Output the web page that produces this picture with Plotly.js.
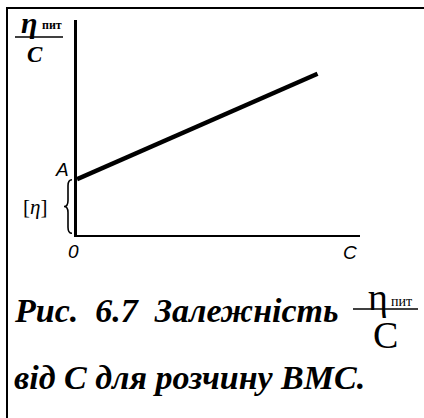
<!DOCTYPE html>
<html>
<head>
<meta charset="utf-8">
<script src="https://cdn.plot.ly/plotly-3.0.1.min.js"></script>
<style>
  html, body { margin: 0; padding: 0; background: #fff; }
  #wrap { position: relative; width: 424px; height: 418px; overflow: hidden; }
  #frame { position: absolute; left: 6px; top: 7px; right: -5px; bottom: -5px;
           border-left: 2.5px solid #000; border-top: 2.5px solid #000; pointer-events: none; }
  #chart { position: absolute; left: 0; top: 0; width: 424px; height: 418px; }
</style>
</head>
<body>
<div id="wrap">
  <div id="chart"></div>
  <div id="frame"></div>
</div>
<script>
// Reduced viscosity vs. concentration for a polymer solution (arbitrary units)
const concentration = [0, 8.5];          // C
const reducedViscosity = [2.6, 7.5];     // η_пит / C
const intrinsicViscosity = reducedViscosity[0]; // [η] = intercept A

const axisLabels = { y: 'η', ySub: 'пит', yDen: 'C', origin: '0', x: 'C', intercept: 'A', intrinsic: '[η]' };
const captionLines = ['Рис.  6.7  Залежність', 'від С для розчину ВМС.'];
const captionFrac = { num: 'η', sub: 'пит', den: 'C' };

const SERIF = 'Liberation Serif';
const SANS = 'Liberation Sans';
const labelFont = { family: SANS, size: 19, color: '#000', style: 'italic' };
const capFont = { family: SERIF, size: 34, color: '#000', weight: 700, style: 'italic' };
const mathFont = { family: SERIF, size: 38, color: '#000' };

const trace = {
  x: concentration,
  y: reducedViscosity,
  type: 'scatter',
  mode: 'lines',
  line: { color: '#000', width: 4.5 },
  hoverinfo: 'skip'
};

// curly brace marking the intercept segment [0, A] on the ordinate
const bTop = intrinsicViscosity - 0.03, bBot = 0.08, bMid = (bTop + bBot) / 2, bD = 0.28;
const bracePath = `M -5,${bTop} Q -9,${bTop} -9,${bTop - bD} L -9,${bMid + bD} Q -9,${bMid} -13,${bMid}` +
                  ` Q -9,${bMid} -9,${bMid - bD} L -9,${bBot + bD} Q -9,${bBot} -5,${bBot}`;

const annotations = [
  // axis annotations
  { xref: 'x', yref: 'y', x: 0, y: intrinsicViscosity, text: axisLabels.intercept,
    xanchor: 'right', yanchor: 'bottom', xshift: -6, yshift: -3, showarrow: false, font: labelFont },
  { xref: 'x', yref: 'y', x: 0, y: intrinsicViscosity / 2, text: '[<i>η</i>]',
    xanchor: 'right', yanchor: 'middle', xshift: -28, yshift: 0, showarrow: false,
    font: { family: SERIF, size: 21, color: '#000' } },
  { xref: 'x', yref: 'y', x: 0, y: 0, text: axisLabels.origin,
    xanchor: 'center', yanchor: 'top', xshift: -4, yshift: -4, showarrow: false, font: labelFont },
  { xref: 'paper', yref: 'y', x: 1, y: 0, text: axisLabels.x,
    xanchor: 'center', yanchor: 'top', xshift: -10, yshift: -5, showarrow: false, font: labelFont },
  // ordinate title as a fraction
  { xref: 'paper', yref: 'paper', x: 0, y: 1, text: axisLabels.y,
    xanchor: 'center', yanchor: 'middle', xshift: -48, yshift: -2, showarrow: false,
    font: { family: SERIF, size: 30, color: '#000', weight: 700, style: 'italic' } },
  { xref: 'paper', yref: 'paper', x: 0, y: 1, text: axisLabels.ySub,
    xanchor: 'center', yanchor: 'middle', xshift: -25, yshift: -5, showarrow: false,
    font: { family: SERIF, size: 12, color: '#000', weight: 700 } },
  { xref: 'paper', yref: 'paper', x: 0, y: 1, text: axisLabels.yDen,
    xanchor: 'center', yanchor: 'middle', xshift: -42, yshift: -34, showarrow: false,
    font: { family: SERIF, size: 23, color: '#000', weight: 700, style: 'italic' } },
  // caption
  { xref: 'paper', yref: 'paper', x: 0, y: 0, text: captionLines[0],
    xanchor: 'left', yanchor: 'middle', xshift: -65, yshift: -75, showarrow: false, font: capFont },
  { xref: 'paper', yref: 'paper', x: 0, y: 0, text: captionLines[1],
    xanchor: 'left', yanchor: 'middle', xshift: -65, yshift: -142, showarrow: false, font: capFont },
  { xref: 'paper', yref: 'paper', x: 0, y: 0, text: captionFrac.num,
    xanchor: 'center', yanchor: 'middle', xshift: 301, yshift: -62, showarrow: false, font: mathFont },
  { xref: 'paper', yref: 'paper', x: 0, y: 0, text: captionFrac.sub,
    xanchor: 'center', yanchor: 'middle', xshift: 324, yshift: -66, showarrow: false,
    font: { family: SERIF, size: 14, color: '#000' } },
  { xref: 'paper', yref: 'paper', x: 0, y: 0, text: captionFrac.den,
    xanchor: 'center', yanchor: 'middle', xshift: 308, yshift: -100, showarrow: false, font: mathFont }
];

const shapes = [
  { type: 'path', xref: 'paper', yref: 'y', xsizemode: 'pixel', xanchor: 0, path: bracePath,
    line: { color: '#000', width: 1.6 } },
  // fraction bar of the ordinate title
  { type: 'line', xref: 'paper', yref: 'paper', xsizemode: 'pixel', ysizemode: 'pixel',
    xanchor: 0, yanchor: 1, x0: -62, x1: -14, y0: -17, y1: -17, line: { color: '#000', width: 1.5 } },
  // fraction bar in the caption
  { type: 'line', xref: 'paper', yref: 'paper', xsizemode: 'pixel', ysizemode: 'pixel',
    xanchor: 0, yanchor: 0, x0: 276, x1: 341, y0: -74, y1: -74, line: { color: '#000', width: 1.5 } }
];

const layout = {
  width: 424, height: 418,
  margin: { l: 77, r: 64, t: 20, b: 183, pad: 0 },
  paper_bgcolor: '#fff', plot_bgcolor: '#fff',
  showlegend: false,
  xaxis: { range: [0, 10], showline: true, linecolor: '#000', linewidth: 2,
           showgrid: false, zeroline: false, showticklabels: false, ticks: '', fixedrange: true },
  yaxis: { range: [0, 10], showline: true, linecolor: '#000', linewidth: 3,
           showgrid: false, zeroline: false, showticklabels: false, ticks: '', fixedrange: true },
  annotations: annotations,
  shapes: shapes
};

Plotly.newPlot('chart', [trace], layout, { staticPlot: true, displayModeBar: false });
</script>
</body>
</html>
